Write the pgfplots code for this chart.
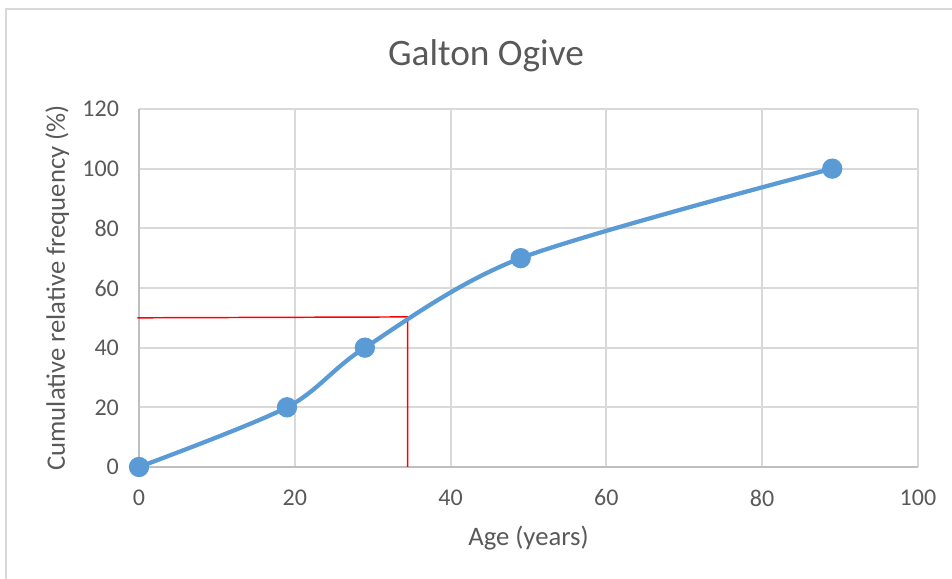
\documentclass[border=0pt]{standalone}
\usepackage{fontspec}
\setmainfont{Carlito}
\usepackage{pgfplots}
\pgfplotsset{compat=1.18}
\definecolor{txt}{HTML}{595959}
\definecolor{gridc}{HTML}{D9D9D9}
\definecolor{axc}{HTML}{BFBFBF}
\definecolor{blu}{HTML}{5B9BD5}
\begin{document}
\begin{tikzpicture}[x=0.375pt,y=0.375pt]
\useasboundingbox (0,0) rectangle (952,579);
\begin{scope}
\clip (0,0) rectangle (952,579);
\draw[gridc, line width=0.6pt] (6,-20) -- (6,570) -- (1000,570);
\end{scope}
\node[txt, font=\fontsize{14}{16}\selectfont] at (486,523) {Galton Ogive};
\begin{axis}[
  at={(52.125pt,42pt)}, anchor=south west,
  scale only axis, width=292.1pt, height=134.25pt,
  xmin=0, xmax=100, ymin=0, ymax=120,
  xtick={0,20,...,100}, ytick={0,20,...,120},
  grid=major,
  major grid style={gridc, line width=0.7pt},
  axis lines=left,
  axis line style={axc, line width=1pt, -},
  major tick length=0pt,
  tick label style={txt, font=\fontsize{9}{11}\selectfont},
  /pgf/number format/assume math mode=true,
  yticklabel style={xshift=-4pt},
  xticklabel style={yshift=-5pt},
  xlabel={Age (years)},
  ylabel={Cumulative relative frequency (\%)},
  label style={txt, font=\fontsize{10}{12}\selectfont},
  xlabel style={at={(axis description cs:0.5,-0.198)}, anchor=center},
  ylabel style={at={(axis description cs:-0.105,0.5)}, anchor=center},
  clip=false,
]
\addplot[red, line width=0.55pt] coordinates {(-0.2,50) (34.5,50.3) (34.5,0)};
\addplot[blu, line width=1.6pt, smooth, mark=*, mark size=3pt, mark options={fill=blu, draw=blu}]
  coordinates {(0,0) (19,20) (29,40) (49,70) (89,100)};
\end{axis}
\end{tikzpicture}
\end{document}
